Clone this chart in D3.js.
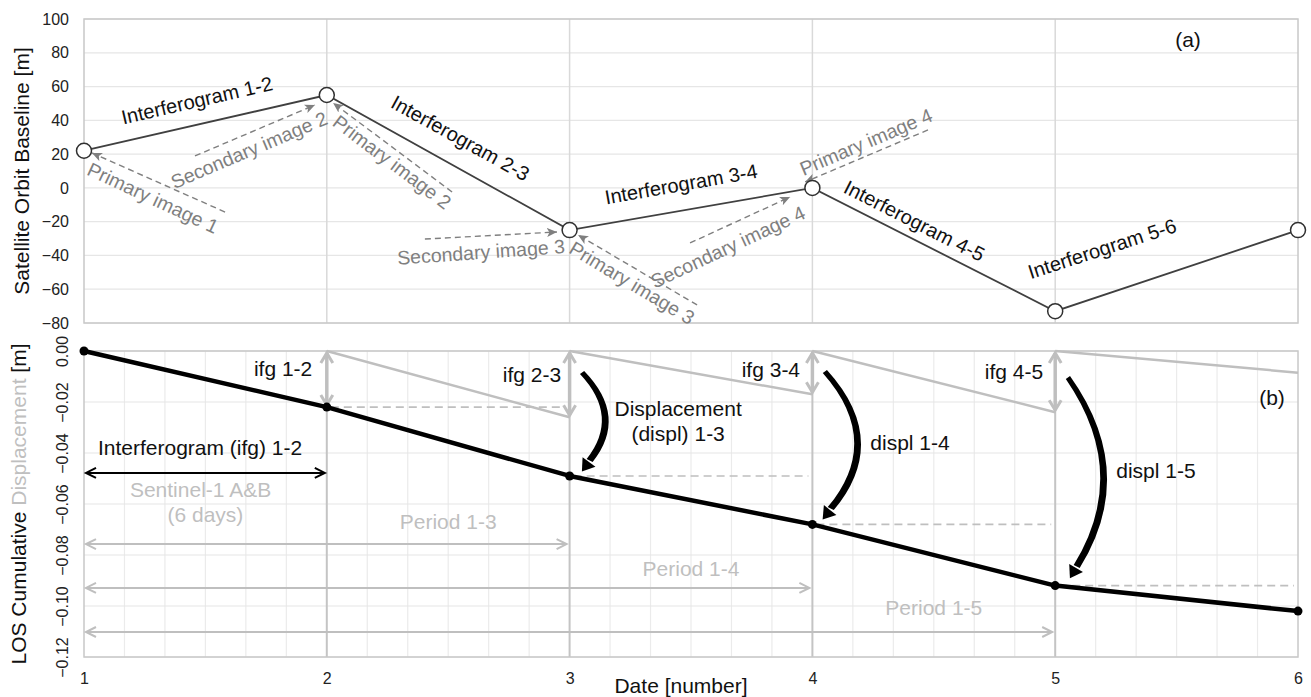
<!DOCTYPE html>
<html>
<head>
<meta charset="utf-8">
<script src="https://cdn.jsdelivr.net/npm/d3@7"></script>
<style>
  body { margin: 0; background: #fff; }
  svg { font-family: "Liberation Sans", Arial, sans-serif; }
</style>
</head>
<body>
<svg id="chart" width="1311" height="697"></svg>
<script>
// dates and values
const dates = [1, 2, 3, 4, 5, 6];
const baseline = [22, 55, -25, 0, -73, -25];                     // satellite orbit baseline [m]
const cumDispl = [0, -0.022, -0.049, -0.068, -0.092, -0.102];    // LOS cumulative displacement [m]
const ifgDispl = [-0.022, -0.026, -0.017, -0.024, -0.0085];      // interferogram i -> i+1
const ifgNames = ["1-2", "2-3", "3-4", "4-5", "5-6"];

const topTicks = [100, 80, 60, 40, 20, 0, -20, -40, -60, -80];
const botTicks = [0, -0.02, -0.04, -0.06, -0.08, -0.10, -0.12];
const minorDays = [7/6, 8/6, 9/6, 10/6, 11/6, 13/6, 14/6, 15/6, 16/6, 17/6, 19/6, 20/6, 21/6, 22/6, 23/6,
                   25/6, 26/6, 27/6, 28/6, 29/6, 31/6, 32/6, 33/6, 34/6, 35/6];

// labels along the baseline segments (data coords + angle)
const segLabels = [
  {t: "Interferogram 1-2", x: 1.465, y: 51.8, a: -13},
  {t: "Interferogram 2-3", x: 2.55, y: 29.5, a: 29},
  {t: "Interferogram 3-4", x: 3.459, y: 2.2, a: -10},
  {t: "Interferogram 4-5", x: 4.42, y: -19.5, a: 27},
  {t: "Interferogram 5-6", x: 5.193, y: -36, a: -18}
];

// dashed "image" pointers in panel (a)
const imageArrows = [
  {t: "Primary image 1",   from: [1.581, -14.3], to: [1.033, 20.7], lx: 1.284, ly: -6,    a: 25},
  {t: "Secondary image 2", from: [1.457, 18.9],  to: [1.951, 49.1], lx: 1.68,  ly: 22.4,  a: -23},
  {t: "Primary image 2",   from: [2.516, -2.4],  to: [2.026, 50.3], lx: 2.269, ly: 15.3,  a: 37},
  {t: "Secondary image 3", from: [2.404, -30.3], to: [2.948, -26.1], lx: 2.635, ly: -38,  a: -4},
  {t: "Primary image 3",   from: [3.525, -69.3], to: [3.035, -27.9], lx: 3.257, ly: -56.3, a: 31},
  {t: "Secondary image 4", from: [3.496, -32.6], to: [3.908, -5.4], lx: 3.652, ly: -35,   a: -25},
  {t: "Primary image 4",   from: [4.476, 34.3],  to: [3.97, 3.5],   lx: 4.221, ly: 27.2,  a: -23}
];

// period arrows in panel (b)
const periods = [
  {t: "Period 1-3", from: 1, to: 3, y: -0.0757, lx: 2.5, ly: -0.067},
  {t: "Period 1-4", from: 1, to: 4, y: -0.0929, lx: 3.5, ly: -0.0855},
  {t: "Period 1-5", from: 1, to: 5, y: -0.1102, lx: 4.5, ly: -0.1008}
];

// curved displacement arrows: start, control, end
const curved = [
  {s: [3.06, -0.0086], c: [3.218, -0.0257], e: [3.08, -0.0435]},
  {s: [4.06, -0.0082], c: [4.301, -0.0353], e: [4.073, -0.0624]},
  {s: [5.061, -0.0106], c: [5.32, -0.0478], e: [5.086, -0.0851]}
];

const svg = d3.select("#chart");
const x = d3.scaleLinear().domain([1, 6]).range([84, 1298]);
const yTop = d3.scaleLinear().domain([-80, 100]).range([323, 19]);
const yBot = d3.scaleLinear().domain([-0.12, 0]).range([657, 351]);

const GRAY = "#bfbfbf", DGRAY = "#7f7f7f";

// markers
const defs = svg.append("defs");
defs.append("marker").attr("id", "headDash")
  .attr("markerUnits", "userSpaceOnUse").attr("markerWidth", 12).attr("markerHeight", 10)
  .attr("refX", 10).attr("refY", 5).attr("orient", "auto")
  .append("path").attr("d", "M0,0.5 L10,5 L0,9.5 L2.5,5 Z").attr("fill", DGRAY);
defs.append("marker").attr("id", "chevBlack")
  .attr("markerUnits", "userSpaceOnUse").attr("markerWidth", 14).attr("markerHeight", 12)
  .attr("refX", 11).attr("refY", 6).attr("orient", "auto-start-reverse")
  .append("path").attr("d", "M1,1 L11,6 L1,11").attr("fill", "none").attr("stroke", "#000").attr("stroke-width", 2);
defs.append("marker").attr("id", "chevGray")
  .attr("markerUnits", "userSpaceOnUse").attr("markerWidth", 14).attr("markerHeight", 12)
  .attr("refX", 11).attr("refY", 6).attr("orient", "auto-start-reverse")
  .append("path").attr("d", "M1,1 L11,6 L1,11").attr("fill", "none").attr("stroke", GRAY).attr("stroke-width", 2);
defs.append("marker").attr("id", "chevGrayThick")
  .attr("markerUnits", "userSpaceOnUse").attr("markerWidth", 16).attr("markerHeight", 16)
  .attr("refX", 12).attr("refY", 8).attr("orient", "auto-start-reverse")
  .append("path").attr("d", "M2,2 L12,8 L2,14").attr("fill", "none").attr("stroke", GRAY).attr("stroke-width", 3);

// ---------- panel (a) ----------
const gA = svg.append("g");
gA.selectAll(".hgrid").data(topTicks).join("line")
  .attr("x1", x(1)).attr("x2", x(6)).attr("y1", d => yTop(d)).attr("y2", d => yTop(d))
  .attr("stroke", "#e6e6e6").attr("stroke-width", 1.2);
gA.selectAll(".vgrid").data(dates.slice(1, 5)).join("line")
  .attr("x1", d => x(d)).attr("x2", d => x(d)).attr("y1", yTop(100)).attr("y2", yTop(-80))
  .attr("stroke", "#d9d9d9").attr("stroke-width", 1.5);
gA.append("rect").attr("x", x(1)).attr("y", yTop(100))
  .attr("width", x(6) - x(1)).attr("height", yTop(-80) - yTop(100))
  .attr("fill", "none").attr("stroke", "#c8c8c8").attr("stroke-width", 1.5);

const axA = gA.append("g").attr("transform", `translate(${x(1)},0)`)
  .call(d3.axisLeft(yTop).tickValues(topTicks).tickSize(0).tickPadding(15));
axA.select(".domain").remove();
axA.selectAll("text").attr("font-size", 16).attr("fill", "#222").attr("font-family", null);

gA.append("text").attr("transform", `translate(22,${(yTop(100) + yTop(-80)) / 2}) rotate(-90)`)
  .attr("text-anchor", "middle").attr("dy", "0.35em").attr("font-size", 21).attr("fill", "#111")
  .text("Satellite Orbit Baseline [m]");

// dashed image arrows
gA.selectAll(".imgArrow").data(imageArrows).join("line")
  .attr("x1", d => x(d.from[0])).attr("y1", d => yTop(d.from[1]))
  .attr("x2", d => x(d.to[0])).attr("y2", d => yTop(d.to[1]))
  .attr("stroke", DGRAY).attr("stroke-width", 1.4).attr("stroke-dasharray", "6,4")
  .attr("marker-end", "url(#headDash)");
gA.selectAll(".imgLabel").data(imageArrows).join("text")
  .attr("transform", d => `translate(${x(d.lx)},${yTop(d.ly)}) rotate(${d.a})`)
  .attr("text-anchor", "middle").attr("dy", "0.35em").attr("font-size", 19.5).attr("fill", DGRAY)
  .text(d => d.t);

// baseline line
const lineA = d3.line().x((d, i) => x(dates[i])).y(d => yTop(d));
gA.append("path").datum(baseline).attr("d", lineA)
  .attr("fill", "none").attr("stroke", "#404040").attr("stroke-width", 1.8);
gA.selectAll(".pt").data(baseline).join("circle")
  .attr("cx", (d, i) => x(dates[i])).attr("cy", d => yTop(d)).attr("r", 7.5)
  .attr("fill", "#fff").attr("stroke", "#303030").attr("stroke-width", 1.5);

gA.selectAll(".segLabel").data(segLabels).join("text")
  .attr("transform", d => `translate(${x(d.x)},${yTop(d.y)}) rotate(${d.a})`)
  .attr("text-anchor", "middle").attr("dy", "0.35em").attr("font-size", 20).attr("fill", "#111")
  .text(d => d.t);

gA.append("text").attr("x", x(5.547)).attr("y", yTop(87.6)).attr("dy", "0.35em")
  .attr("text-anchor", "middle").attr("font-size", 21).attr("fill", "#111").text("(a)");

// ---------- panel (b) ----------
const gB = svg.append("g");
gB.selectAll(".minor").data(minorDays).join("line")
  .attr("x1", d => x(d)).attr("x2", d => x(d)).attr("y1", yBot(0)).attr("y2", yBot(-0.12))
  .attr("stroke", "#ebebeb").attr("stroke-width", 1.2);
gB.selectAll(".hgrid").data(botTicks).join("line")
  .attr("x1", x(1)).attr("x2", x(6)).attr("y1", d => yBot(d)).attr("y2", d => yBot(d))
  .attr("stroke", "#e6e6e6").attr("stroke-width", 1.2);
gB.selectAll(".major").data(dates.slice(1, 5)).join("line")
  .attr("x1", d => x(d)).attr("x2", d => x(d)).attr("y1", yBot(0)).attr("y2", yBot(-0.12))
  .attr("stroke", "#c4c4c4").attr("stroke-width", 2);
gB.append("rect").attr("x", x(1)).attr("y", yBot(0))
  .attr("width", x(6) - x(1)).attr("height", yBot(-0.12) - yBot(0))
  .attr("fill", "none").attr("stroke", "#c8c8c8").attr("stroke-width", 1.5);

const axB = gB.append("g").attr("transform", `translate(${x(1)},0)`)
  .call(d3.axisLeft(yBot).tickValues(botTicks).tickSize(0).tickFormat(d3.format(".2f")));
axB.select(".domain").remove();
axB.selectAll("text").attr("font-size", 16).attr("fill", "#222").attr("font-family", null)
  .attr("x", 0).attr("y", 0).attr("dy", "0.35em").attr("text-anchor", "middle")
  .attr("transform", "translate(-22,0) rotate(-90)");

const yt = gB.append("text").attr("transform", `translate(19,${(yBot(0) + yBot(-0.12)) / 2}) rotate(-90)`)
  .attr("text-anchor", "middle").attr("dy", "0.35em").attr("font-size", 21).attr("fill", "#111");
yt.append("tspan").text("LOS Cumulative ");
yt.append("tspan").attr("fill", GRAY).text("Displacement");
yt.append("tspan").text(" [m]");

// x axis
const axX = svg.append("g").attr("transform", `translate(0,${yBot(-0.12)})`)
  .call(d3.axisBottom(x).tickValues(dates).tickSize(0).tickPadding(16).tickFormat(d3.format("d")));
axX.select(".domain").remove();
axX.selectAll("text").attr("font-size", 16).attr("fill", "#222").attr("font-family", null);
svg.append("text").attr("x", 681).attr("y", 686).attr("dy", "0.35em").attr("text-anchor", "middle")
  .attr("font-size", 21).attr("fill", "#111").text("Date [number]");

// single interferogram lines (start at 0 on each date)
gB.selectAll(".ifgLine").data(ifgDispl).join("line")
  .attr("x1", (d, i) => x(dates[i])).attr("y1", yBot(0))
  .attr("x2", (d, i) => x(dates[i + 1])).attr("y2", d => yBot(d))
  .attr("stroke", GRAY).attr("stroke-width", 2.5);

// dashed levels
gB.selectAll(".lvl").data(cumDispl.slice(1, 5)).join("line")
  .attr("x1", (d, i) => x(dates[i + 1]) + 4).attr("x2", (d, i) => x(dates[i + 2]) - 4)
  .attr("y1", d => yBot(d)).attr("y2", d => yBot(d))
  .attr("stroke", GRAY).attr("stroke-width", 1.6).attr("stroke-dasharray", "8,5");

// vertical ifg arrows
gB.selectAll(".ifgArrow").data(ifgDispl.slice(0, 4)).join("line")
  .attr("x1", (d, i) => x(dates[i + 1])).attr("x2", (d, i) => x(dates[i + 1]))
  .attr("y1", yBot(0) + 2).attr("y2", d => yBot(d) - 2)
  .attr("stroke", GRAY).attr("stroke-width", 3.5)
  .attr("marker-start", "url(#chevGrayThick)").attr("marker-end", "url(#chevGrayThick)");
const ifgLabelPos = [[1.82, -0.0071], [2.845, -0.0094], [3.829, -0.0075], [4.83, -0.0082]];
gB.selectAll(".ifgLabel").data(ifgNames.slice(0, 4)).join("text")
  .attr("x", (d, i) => x(ifgLabelPos[i][0])).attr("y", (d, i) => yBot(ifgLabelPos[i][1]))
  .attr("dy", "0.35em").attr("text-anchor", "middle").attr("font-size", 21).attr("fill", "#111")
  .text(d => "ifg " + d);

// cumulative displacement
const lineB = d3.line().x((d, i) => x(dates[i])).y(d => yBot(d));
gB.append("path").datum(cumDispl).attr("d", lineB)
  .attr("fill", "none").attr("stroke", "#000").attr("stroke-width", 4.5).attr("stroke-linejoin", "round");
gB.selectAll(".cpt").data(cumDispl).join("circle")
  .attr("cx", (d, i) => x(dates[i])).attr("cy", d => yBot(d)).attr("r", 4.5).attr("fill", "#000");

// interferogram 1-2 arrow and Sentinel text
gB.append("line").attr("x1", x(1) + 2).attr("x2", x(2) - 2)
  .attr("y1", yBot(-0.0478)).attr("y2", yBot(-0.0478))
  .attr("stroke", "#000").attr("stroke-width", 2)
  .attr("marker-start", "url(#chevBlack)").attr("marker-end", "url(#chevBlack)");
gB.append("text").attr("x", x(1.478)).attr("y", yBot(-0.038)).attr("dy", "0.35em")
  .attr("text-anchor", "middle").attr("font-size", 21).attr("fill", "#111").text("Interferogram (ifg) 1-2");
gB.append("text").attr("x", x(1.48)).attr("y", yBot(-0.0545)).attr("dy", "0.35em")
  .attr("text-anchor", "middle").attr("font-size", 21).attr("fill", GRAY).text("Sentinel-1 A&B");
gB.append("text").attr("x", x(1.5)).attr("y", yBot(-0.0643)).attr("dy", "0.35em")
  .attr("text-anchor", "middle").attr("font-size", 21).attr("fill", GRAY).text("(6 days)");

// period arrows
gB.selectAll(".period").data(periods).join("line")
  .attr("x1", d => x(d.from) + 2).attr("x2", d => x(d.to) - 3)
  .attr("y1", d => yBot(d.y)).attr("y2", d => yBot(d.y))
  .attr("stroke", GRAY).attr("stroke-width", 2)
  .attr("marker-start", "url(#chevGray)").attr("marker-end", "url(#chevGray)");
gB.selectAll(".periodLabel").data(periods).join("text")
  .attr("x", d => x(d.lx)).attr("y", d => yBot(d.ly)).attr("dy", "0.35em")
  .attr("text-anchor", "middle").attr("font-size", 21).attr("fill", GRAY).text(d => d.t);

// curved displacement arrows (tapered)
gB.selectAll(".curve").data(curved).join("path")
  .attr("d", d => {
    const sx = x(d.s[0]), sy = yBot(d.s[1]);
    const cx = x(d.c[0]), cy = yBot(d.c[1]);
    const ex = x(d.e[0]), ey = yBot(d.e[1]);
    const w = 6;
    return `M${sx},${sy - 2} Q${cx + w},${cy} ${ex + w * 0.6},${ey}` +
           ` L${ex - w * 0.4},${ey - w * 0.5} Q${cx - w * 0.4},${cy} ${sx - w * 0.7},${sy + 1} Z`;
  })
  .attr("fill", "#000");
gB.selectAll(".curveHead").data(curved).join("path")
  .attr("d", d => {
    const cx = x(d.c[0]), cy = yBot(d.c[1]);
    const ex = x(d.e[0]), ey = yBot(d.e[1]);
    const ang = Math.atan2(ey - cy, ex - cx);
    const ux = Math.cos(ang), uy = Math.sin(ang), px = -uy, py = ux;
    const L = 12, W = 8;
    return `M${ex + ux * L},${ey + uy * L} L${ex + px * W},${ey + py * W} L${ex - px * W},${ey - py * W} Z`;
  })
  .attr("fill", "#000");

gB.append("text").attr("x", x(3.447)).attr("y", yBot(-0.0227)).attr("dy", "0.35em")
  .attr("text-anchor", "middle").attr("font-size", 21).attr("fill", "#111").text("Displacement");
gB.append("text").attr("x", x(3.447)).attr("y", yBot(-0.0325)).attr("dy", "0.35em")
  .attr("text-anchor", "middle").attr("font-size", 21).attr("fill", "#111").text("(displ) 1-3");
gB.append("text").attr("x", x(4.402)).attr("y", yBot(-0.036)).attr("dy", "0.35em")
  .attr("text-anchor", "middle").attr("font-size", 21).attr("fill", "#111").text("displ 1-4");
gB.append("text").attr("x", x(5.415)).attr("y", yBot(-0.047)).attr("dy", "0.35em")
  .attr("text-anchor", "middle").attr("font-size", 21).attr("fill", "#111").text("displ 1-5");
gB.append("text").attr("x", x(5.893)).attr("y", yBot(-0.0184)).attr("dy", "0.35em")
  .attr("text-anchor", "middle").attr("font-size", 21).attr("fill", "#111").text("(b)");
</script>
</body>
</html>
